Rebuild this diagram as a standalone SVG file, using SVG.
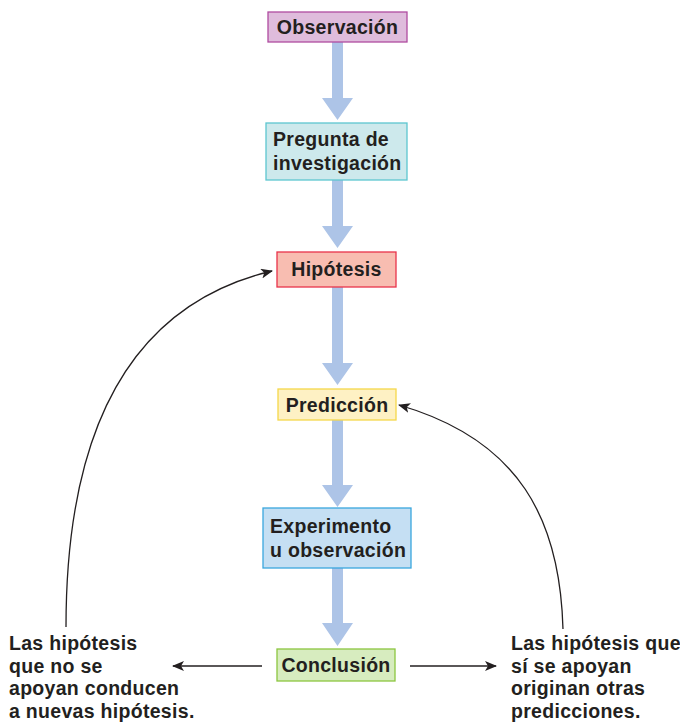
<svg xmlns="http://www.w3.org/2000/svg" width="680" height="724" viewBox="0 0 680 724">
<defs>
<style>
.t{font-family:"Liberation Sans",Arial,sans-serif;font-weight:bold;font-size:19.5px;fill:#231f20;letter-spacing:0.3px}
.c{text-anchor:middle}
.flow{fill:#adc4e7}
.ln{fill:none;stroke:#231f20;stroke-width:1.3}
</style>
<marker id="ah" viewBox="0 0 12 10" refX="11" refY="5" markerWidth="12" markerHeight="10" markerUnits="userSpaceOnUse" orient="auto">
<path d="M0,0 L12,5 L0,10 L3,5 Z" fill="#231f20"/>
</marker>
</defs>
<rect width="680" height="724" fill="#fff"/>
<g id="connectors">
<path class="flow" d="M332,42 H343 V98 H353 L337.5,120 L322,98 H332 Z"/>
<path class="flow" d="M332,180 H343 V226 H353 L337.5,248 L322,226 H332 Z"/>
<path class="flow" d="M332,287 H343 V363 H353 L337.5,385 L322,363 H332 Z"/>
<path class="flow" d="M332,420 H343 V485 H353 L337.5,507 L322,485 H332 Z"/>
<path class="flow" d="M332,568 H343 V623 H353 L337.5,646 L322,623 H332 Z"/>
<path class="ln" d="M66,627 C66,400 150,300 272,271" marker-end="url(#ah)"/>
<path class="ln" d="M563,629 C560,520 520,440 399,405" marker-end="url(#ah)"/>
<path class="ln" d="M262,666 H173" marker-end="url(#ah)"/>
<path class="ln" d="M410,666 H496" marker-end="url(#ah)"/>
</g>
<g id="observacion">
<rect x="268" y="12" width="139" height="30" fill="#dfbcdc" stroke="#b04ca0" stroke-width="1.3"/>
<text class="t c" x="337.5" y="33.5">Observación</text>
</g>
<g id="pregunta">
<rect x="266" y="123" width="141" height="57" fill="#cde9ec" stroke="#5cc6d0" stroke-width="1.3"/>
<text class="t" x="273" y="146">Pregunta de</text>
<text class="t" x="273" y="170">investigación</text>
</g>
<g id="hipotesis">
<rect x="277" y="252" width="119" height="35" fill="#f8bdb1" stroke="#e8334a" stroke-width="1.3"/>
<text class="t c" x="336.5" y="276">Hipótesis</text>
</g>
<g id="prediccion">
<rect x="278" y="389" width="118" height="31" fill="#fef1c4" stroke="#f5d84a" stroke-width="1.3"/>
<text class="t c" x="337" y="412">Predicción</text>
</g>
<g id="experimento">
<rect x="263" y="508" width="148" height="60" fill="#c5dff3" stroke="#3aa7dd" stroke-width="1.3"/>
<text class="t" x="270" y="533">Experimento</text>
<text class="t" x="270" y="557">u observación</text>
</g>
<g id="conclusion">
<rect x="277" y="649" width="118" height="32" fill="#d7ecbf" stroke="#8cc63f" stroke-width="1.3"/>
<text class="t c" x="336" y="672">Conclusión</text>
</g>
<g id="no-apoyan">
<text class="t" x="9" y="650">Las hipótesis</text>
<text class="t" x="9" y="672.5">que no se</text>
<text class="t" x="9" y="695">apoyan conducen</text>
<text class="t" x="9" y="717.5">a nuevas hipótesis.</text>
</g>
<g id="si-apoyan">
<text class="t" x="511" y="650">Las hipótesis que</text>
<text class="t" x="511" y="672.5">sí se apoyan</text>
<text class="t" x="511" y="695">originan otras</text>
<text class="t" x="511" y="717.5">predicciones.</text>
</g>
</svg>
